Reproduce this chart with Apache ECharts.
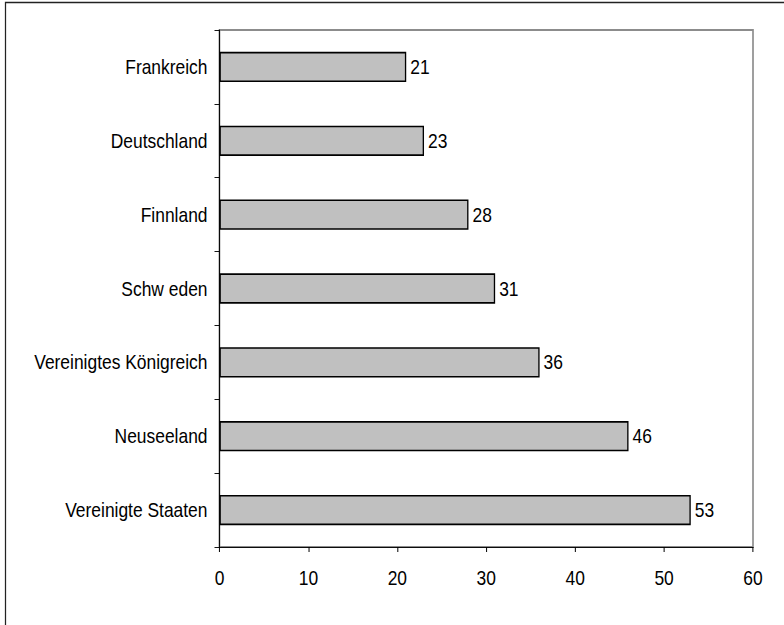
<!DOCTYPE html>
<html>
<head>
<meta charset="utf-8">
<script src="https://cdn.jsdelivr.net/npm/echarts@6/dist/echarts.min.js"></script>
<style>
  html, body { margin: 0; padding: 0; background: #fff; overflow: hidden; }
  #wrap { width: 784px; height: 625px; overflow: hidden; }
  /* drawn wider, then squeezed horizontally for a condensed lettering */
  #chart { width: 945px; height: 625px; transform: scaleX(0.82963); transform-origin: 0 0; }
</style>
</head>
<body>
<div id="wrap"><div id="chart"></div></div>
<script>
// Länder (oben nach unten) und Werte
const countries = [
  'Frankreich',
  'Deutschland',
  'Finnland',
  'Schw eden',
  'Vereinigtes Königreich',
  'Neuseeland',
  'Vereinigte Staaten'
];
const values = [21, 23, 28, 31, 36, 46, 53];
const axisTicks = { min: 0, max: 60, interval: 10 };

const sx = 784 / 945;            // horizontal squeeze factor
const px = v => v / sx;          // horizontal screen pixels -> drawing units

const chart = echarts.init(document.getElementById('chart'), null, { renderer: 'svg' });
const font = '"Liberation Sans", Arial, sans-serif';
const fontSize = 21;

chart.setOption({
  animation: false,
  backgroundColor: '#fff',
  graphic: [{
    // frame along the top and left edge of the chart area
    type: 'polyline',
    shape: { points: [[px(5.5), 700], [px(5.5), 2.5], [px(800), 2.5]] },
    style: { fill: 'none', stroke: '#222', lineWidth: 1.5 },
    silent: true
  }],
  grid: {
    left: px(219.5), right: px(31), top: 30, bottom: 78,
    outerBoundsMode: 'none',
    containLabel: false,
    show: true,
    borderColor: '#8c8c8c',
    borderWidth: 2,
    backgroundColor: 'transparent'
  },
  xAxis: {
    type: 'value',
    min: axisTicks.min, max: axisTicks.max, interval: axisTicks.interval,
    splitLine: { show: false },
    axisLine: { show: true, lineStyle: { color: '#000', width: 1 } },
    axisTick: { show: true, length: 5, inside: false, lineStyle: { color: '#000', width: px(1) } },
    axisLabel: { color: '#000', fontSize: fontSize, fontFamily: font, margin: 20 }
  },
  yAxis: {
    type: 'category',
    inverse: true,
    data: countries,
    axisLine: { show: true, lineStyle: { color: '#000', width: px(1) } },
    axisTick: { show: true, length: px(5), alignWithLabel: false, lineStyle: { color: '#000' } },
    axisLabel: { color: '#000', fontSize: fontSize, fontFamily: font, margin: px(12) }
  },
  series: [{
    type: 'bar',
    data: values,
    barCategoryGap: '59%',
    itemStyle: { color: '#c0c0c0', borderColor: '#000', borderWidth: 1.6 },
    label: {
      show: true,
      position: 'right',
      distance: px(4),
      color: '#000',
      fontSize: fontSize,
      fontFamily: font
    }
  }]
});
</script>
</body>
</html>
